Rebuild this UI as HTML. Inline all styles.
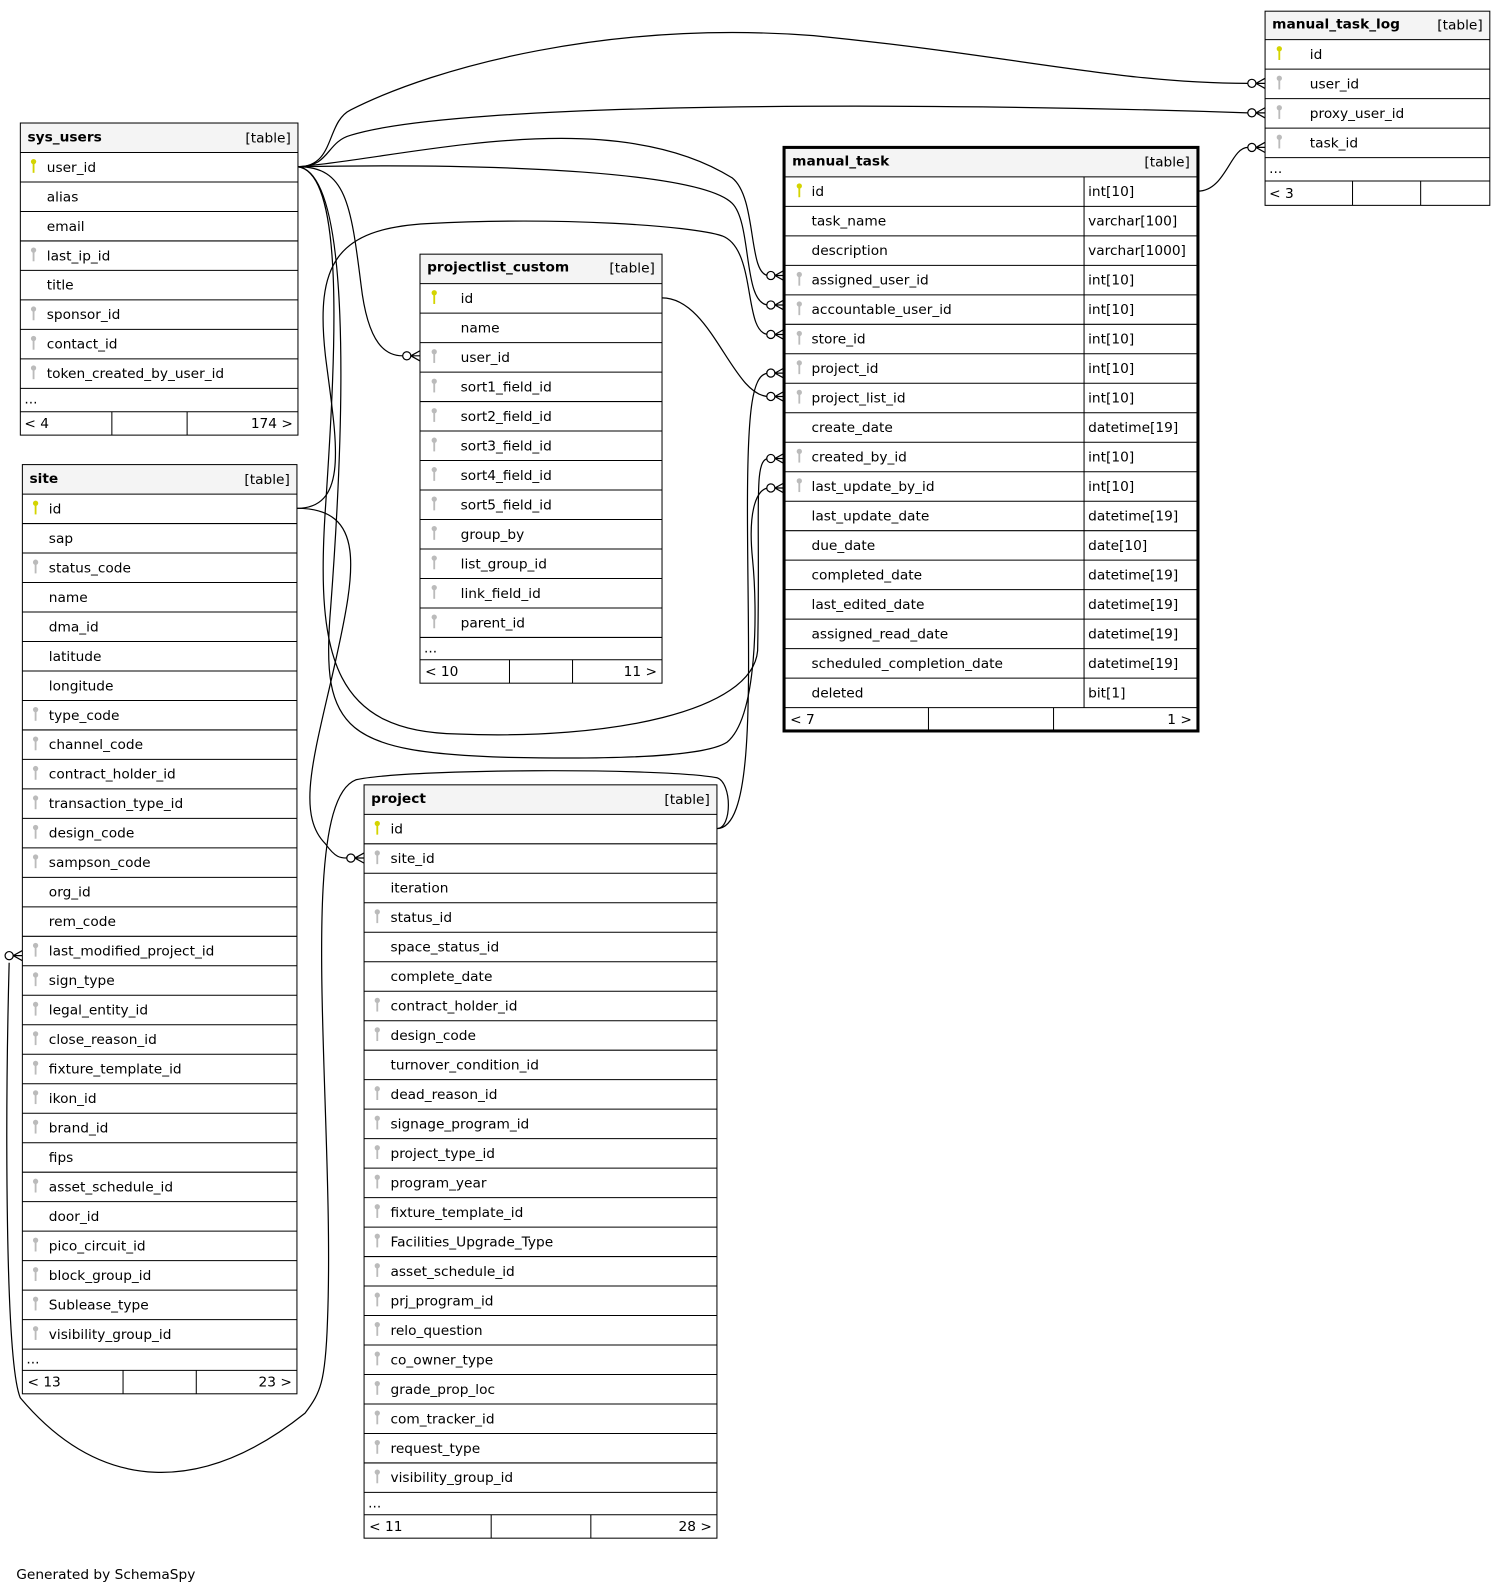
<!DOCTYPE html>
<html><head><meta charset="utf-8"><style>
html,body{margin:0;padding:0;background:#fff;}
svg{display:block}
text{font-family:"DejaVu Sans","Liberation Sans",sans-serif;font-size:13.5px;fill:#000}
.b{font-weight:bold}
.t{fill:none;stroke:#000;stroke-width:1}
.e{fill:none;stroke:#000;stroke-width:1.2}
</style></head><body>
<svg width="1501" height="1589" viewBox="0 0 1476 1563" preserveAspectRatio="none" xmlns="http://www.w3.org/2000/svg">
<defs>
<g id="pk"><circle cx="0" cy="-3" r="2.6" fill="#d4d400"/><rect x="-0.9" y="-1" width="1.8" height="9" fill="#d4d400"/></g>
<g id="fk"><circle cx="0" cy="-3" r="2.6" fill="#bbb"/><rect x="-0.9" y="-1" width="1.8" height="9" fill="#bbb"/></g>
<g id="cf"><circle cx="-13" cy="0" r="4" fill="#fff" stroke="#000" stroke-width="1.2"/><path d="M-9,0 L0,-5 M-9,0 L0,0 M-9,0 L0,5" stroke="#000" stroke-width="1.2" fill="none"/></g>
</defs>

<!-- edges -->
<path class="e" d="M293 164 C330 164 320 120 345 108 C430 65 600 20 800 35 C1000 55 1100 82 1227 82"/>
<path class="e" d="M293 164 C325 164 320 140 345 133 C450 100 900 100 1227 111"/>
<path class="e" d="M293 164 C400 155 600 100 720 175 C745 195 735 271 756 271"/>
<path class="e" d="M293 164 C500 160 690 170 720 200 C740 220 730 300 756 300"/>
<path class="e" d="M292 500 C345 500 330 430 320 350 C310 260 330 225 420 220 C550 213 680 222 710 232 C745 245 730 329 756 329"/>
<path class="e" d="M293 164 C340 164 345 200 355 280 C362 340 380 350 396 350"/>
<path class="e" d="M651 293 C700 293 720 390 756 390"/>
<path class="e" d="M705 815 C745 815 735 650 735 500 C735 400 740 367 756 367"/>
<path class="e" d="M293 164 C340 170 330 350 320 500 C310 650 330 720 450 722 C600 728 740 700 745 640 C748 500 740 451 756 451"/>
<path class="e" d="M293 164 C345 170 340 400 325 600 C315 720 340 740 500 745 C650 748 700 740 715 730 C745 705 745 600 740 550 C735 500 745 480 756 480"/>
<path class="e" d="M292 500 C360 500 350 560 330 650 C310 740 290 800 320 830 C330 844 335 844 341 844"/>
<path class="e" d="M705 815 C720 815 720 770 705 765 C650 755 400 756 350 767 C290 790 330 1100 322 1300 C320 1360 315 1370 300 1390 C200 1470 100 1470 20 1375 C5 1340 5 1100 9 947"/>
<path class="e" d="M1178 188 C1205 188 1210 145 1227 145"/>
<use href="#cf" x="1244" y="82"/><use href="#cf" x="1244" y="111"/><use href="#cf" x="1244" y="145"/>
<use href="#cf" x="771" y="271"/><use href="#cf" x="771" y="300"/><use href="#cf" x="771" y="329"/>
<use href="#cf" x="771" y="367"/><use href="#cf" x="771" y="390"/><use href="#cf" x="771" y="451"/><use href="#cf" x="771" y="480"/>
<use href="#cf" x="413" y="350"/><use href="#cf" x="358" y="844"/><use href="#cf" x="22" y="940"/>

<!-- sys_users -->
<rect x="20" y="121" width="273" height="29" fill="#f4f4f4"/>
<rect class="t" x="20" y="121" width="273" height="307"/>
<g class="t"><path d="M20 150H293M20 179H293M20 208H293M20 237H293M20 266H293M20 295H293M20 324H293M20 353H293M20 382H293M20 405H293M110 405V428M184 405V428"/></g>
<text class="b" x="27" y="139">sys_users</text><text x="286" y="140" text-anchor="end">[table]</text>
<use href="#pk" x="33" y="162"/><text x="46" y="169">user_id</text>
<text x="46" y="198">alias</text><text x="46" y="227">email</text>
<use href="#fk" x="33" y="249"/><text x="46" y="256">last_ip_id</text>
<text x="46" y="285">title</text>
<use href="#fk" x="33" y="307"/><text x="46" y="314">sponsor_id</text>
<use href="#fk" x="33" y="336"/><text x="46" y="343">contact_id</text>
<use href="#fk" x="33" y="365"/><text x="46" y="372">token_created_by_user_id</text>
<text x="24" y="397">...</text><text x="24" y="421">&lt; 4</text><text x="288" y="421" text-anchor="end">174 &gt;</text>

<!-- site -->
<rect x="22" y="457" width="270" height="29" fill="#f4f4f4"/>
<rect class="t" x="22" y="457" width="270" height="914"/>
<g class="t"><path d="M22 486H292M22 515H292M22 544H292M22 573H292M22 602H292M22 631H292M22 660H292M22 689H292M22 718H292M22 747H292M22 776H292M22 805H292M22 834H292M22 863H292M22 892H292M22 921H292M22 950H292M22 979H292M22 1008H292M22 1037H292M22 1066H292M22 1095H292M22 1124H292M22 1153H292M22 1182H292M22 1211H292M22 1240H292M22 1269H292M22 1298H292M22 1327H292M22 1348H292M121 1348V1371M193 1348V1371"/></g>
<text class="b" x="29" y="475">site</text><text x="285" y="476" text-anchor="end">[table]</text>
<use href="#pk" x="35" y="498"/><text x="48" y="505">id</text>
<text x="48" y="534">sap</text>
<use href="#fk" x="35" y="556"/><text x="48" y="563">status_code</text>
<text x="48" y="592">name</text><text x="48" y="621">dma_id</text><text x="48" y="650">latitude</text><text x="48" y="679">longitude</text>
<use href="#fk" x="35" y="701"/><text x="48" y="708">type_code</text>
<use href="#fk" x="35" y="730"/><text x="48" y="737">channel_code</text>
<use href="#fk" x="35" y="759"/><text x="48" y="766">contract_holder_id</text>
<use href="#fk" x="35" y="788"/><text x="48" y="795">transaction_type_id</text>
<use href="#fk" x="35" y="817"/><text x="48" y="824">design_code</text>
<use href="#fk" x="35" y="846"/><text x="48" y="853">sampson_code</text>
<text x="48" y="882">org_id</text><text x="48" y="911">rem_code</text>
<use href="#fk" x="35" y="933"/><text x="48" y="940">last_modified_project_id</text>
<use href="#fk" x="35" y="962"/><text x="48" y="969">sign_type</text>
<use href="#fk" x="35" y="991"/><text x="48" y="998">legal_entity_id</text>
<use href="#fk" x="35" y="1020"/><text x="48" y="1027">close_reason_id</text>
<use href="#fk" x="35" y="1049"/><text x="48" y="1056">fixture_template_id</text>
<use href="#fk" x="35" y="1078"/><text x="48" y="1085">ikon_id</text>
<use href="#fk" x="35" y="1107"/><text x="48" y="1114">brand_id</text>
<text x="48" y="1143">fips</text>
<use href="#fk" x="35" y="1165"/><text x="48" y="1172">asset_schedule_id</text>
<text x="48" y="1201">door_id</text>
<use href="#fk" x="35" y="1223"/><text x="48" y="1230">pico_circuit_id</text>
<use href="#fk" x="35" y="1252"/><text x="48" y="1259">block_group_id</text>
<use href="#fk" x="35" y="1281"/><text x="48" y="1288">Sublease_type</text>
<use href="#fk" x="35" y="1310"/><text x="48" y="1317">visibility_group_id</text>
<text x="26" y="1341">...</text><text x="27" y="1364">&lt; 13</text><text x="287" y="1364" text-anchor="end">23 &gt;</text>

<!-- projectlist_custom -->
<rect x="413" y="250" width="238" height="29" fill="#f4f4f4"/>
<rect class="t" x="413" y="250" width="238" height="422"/>
<g class="t"><path d="M413 279H651M413 308H651M413 337H651M413 366H651M413 395H651M413 424H651M413 453H651M413 482H651M413 511H651M413 540H651M413 569H651M413 598H651M413 627H651M413 649H651M501 649V672M563 649V672"/></g>
<text class="b" x="420" y="267">projectlist_custom</text><text x="644" y="268" text-anchor="end">[table]</text>
<use href="#pk" x="427" y="291"/><text x="453" y="298">id</text>
<text x="453" y="327">name</text>
<use href="#fk" x="427" y="349"/><text x="453" y="356">user_id</text>
<use href="#fk" x="427" y="378"/><text x="453" y="385">sort1_field_id</text>
<use href="#fk" x="427" y="407"/><text x="453" y="414">sort2_field_id</text>
<use href="#fk" x="427" y="436"/><text x="453" y="443">sort3_field_id</text>
<use href="#fk" x="427" y="465"/><text x="453" y="472">sort4_field_id</text>
<use href="#fk" x="427" y="494"/><text x="453" y="501">sort5_field_id</text>
<use href="#fk" x="427" y="523"/><text x="453" y="530">group_by</text>
<use href="#fk" x="427" y="552"/><text x="453" y="559">list_group_id</text>
<use href="#fk" x="427" y="581"/><text x="453" y="588">link_field_id</text>
<use href="#fk" x="427" y="610"/><text x="453" y="617">parent_id</text>
<text x="417" y="642">...</text><text x="418" y="665">&lt; 10</text><text x="646" y="665" text-anchor="end">11 &gt;</text>

<!-- manual_task -->
<rect x="771" y="145" width="407" height="29" fill="#f4f4f4"/>
<rect x="771" y="145" width="407" height="574" fill="none" stroke="#000" stroke-width="3"/>
<g class="t"><path d="M771 174H1178M771 203H1178M771 232H1178M771 261H1178M771 290H1178M771 319H1178M771 348H1178M771 377H1178M771 406H1178M771 435H1178M771 464H1178M771 493H1178M771 522H1178M771 551H1178M771 580H1178M771 609H1178M771 638H1178M771 667H1178M771 696H1178M1066 174V696M913 696V719M1036 696V719"/></g>
<text class="b" x="779" y="163">manual_task</text><text x="1170" y="164" text-anchor="end">[table]</text>
<use href="#pk" x="786" y="186"/><text x="798" y="193">id</text><text x="1070" y="193">int[10]</text>
<text x="798" y="222">task_name</text><text x="1070" y="222">varchar[100]</text>
<text x="798" y="251">description</text><text x="1070" y="251">varchar[1000]</text>
<use href="#fk" x="786" y="273"/><text x="798" y="280">assigned_user_id</text><text x="1070" y="280">int[10]</text>
<use href="#fk" x="786" y="302"/><text x="798" y="309">accountable_user_id</text><text x="1070" y="309">int[10]</text>
<use href="#fk" x="786" y="331"/><text x="798" y="338">store_id</text><text x="1070" y="338">int[10]</text>
<use href="#fk" x="786" y="360"/><text x="798" y="367">project_id</text><text x="1070" y="367">int[10]</text>
<use href="#fk" x="786" y="389"/><text x="798" y="396">project_list_id</text><text x="1070" y="396">int[10]</text>
<text x="798" y="425">create_date</text><text x="1070" y="425">datetime[19]</text>
<use href="#fk" x="786" y="447"/><text x="798" y="454">created_by_id</text><text x="1070" y="454">int[10]</text>
<use href="#fk" x="786" y="476"/><text x="798" y="483">last_update_by_id</text><text x="1070" y="483">int[10]</text>
<text x="798" y="512">last_update_date</text><text x="1070" y="512">datetime[19]</text>
<text x="798" y="541">due_date</text><text x="1070" y="541">date[10]</text>
<text x="798" y="570">completed_date</text><text x="1070" y="570">datetime[19]</text>
<text x="798" y="599">last_edited_date</text><text x="1070" y="599">datetime[19]</text>
<text x="798" y="628">assigned_read_date</text><text x="1070" y="628">datetime[19]</text>
<text x="798" y="657">scheduled_completion_date</text><text x="1070" y="657">datetime[19]</text>
<text x="798" y="686">deleted</text><text x="1070" y="686">bit[1]</text>
<text x="777" y="712">&lt; 7</text><text x="1172" y="712" text-anchor="end">1 &gt;</text>

<!-- manual_task_log -->
<rect x="1244" y="11" width="221" height="28" fill="#f4f4f4"/>
<rect class="t" x="1244" y="11" width="221" height="191"/>
<g class="t"><path d="M1244 39H1465M1244 68H1465M1244 97H1465M1244 126H1465M1244 155H1465M1244 178H1465M1330 178V202M1397 178V202"/></g>
<text class="b" x="1251" y="28">manual_task_log</text><text x="1458" y="29" text-anchor="end">[table]</text>
<use href="#pk" x="1258" y="51"/><text x="1288" y="58">id</text>
<use href="#fk" x="1258" y="80"/><text x="1288" y="87">user_id</text>
<use href="#fk" x="1258" y="109"/><text x="1288" y="116">proxy_user_id</text>
<use href="#fk" x="1258" y="138"/><text x="1288" y="145">task_id</text>
<text x="1248" y="170">...</text><text x="1248" y="195">&lt; 3</text>

<!-- project -->
<rect x="358" y="772" width="347" height="29" fill="#f4f4f4"/>
<rect class="t" x="358" y="772" width="347" height="741"/>
<g class="t"><path d="M358 801H705M358 830H705M358 859H705M358 888H705M358 917H705M358 946H705M358 975H705M358 1004H705M358 1033H705M358 1062H705M358 1091H705M358 1120H705M358 1149H705M358 1178H705M358 1207H705M358 1236H705M358 1265H705M358 1294H705M358 1323H705M358 1352H705M358 1381H705M358 1410H705M358 1439H705M358 1468H705M358 1490H705M483 1490V1513M581 1490V1513"/></g>
<text class="b" x="365" y="790">project</text><text x="698" y="791" text-anchor="end">[table]</text>
<use href="#pk" x="371" y="813"/><text x="384" y="820">id</text>
<use href="#fk" x="371" y="842"/><text x="384" y="849">site_id</text>
<text x="384" y="878">iteration</text>
<use href="#fk" x="371" y="900"/><text x="384" y="907">status_id</text>
<text x="384" y="936">space_status_id</text>
<text x="384" y="965">complete_date</text>
<use href="#fk" x="371" y="987"/><text x="384" y="994">contract_holder_id</text>
<use href="#fk" x="371" y="1016"/><text x="384" y="1023">design_code</text>
<text x="384" y="1052">turnover_condition_id</text>
<use href="#fk" x="371" y="1074"/><text x="384" y="1081">dead_reason_id</text>
<use href="#fk" x="371" y="1103"/><text x="384" y="1110">signage_program_id</text>
<use href="#fk" x="371" y="1132"/><text x="384" y="1139">project_type_id</text>
<use href="#fk" x="371" y="1161"/><text x="384" y="1168">program_year</text>
<use href="#fk" x="371" y="1190"/><text x="384" y="1197">fixture_template_id</text>
<use href="#fk" x="371" y="1219"/><text x="384" y="1226">Facilities_Upgrade_Type</text>
<use href="#fk" x="371" y="1248"/><text x="384" y="1255">asset_schedule_id</text>
<use href="#fk" x="371" y="1277"/><text x="384" y="1284">prj_program_id</text>
<use href="#fk" x="371" y="1306"/><text x="384" y="1313">relo_question</text>
<use href="#fk" x="371" y="1335"/><text x="384" y="1342">co_owner_type</text>
<use href="#fk" x="371" y="1364"/><text x="384" y="1371">grade_prop_loc</text>
<use href="#fk" x="371" y="1393"/><text x="384" y="1400">com_tracker_id</text>
<use href="#fk" x="371" y="1422"/><text x="384" y="1429">request_type</text>
<use href="#fk" x="371" y="1451"/><text x="384" y="1458">visibility_group_id</text>
<text x="362" y="1483">...</text><text x="363" y="1506">&lt; 11</text><text x="700" y="1506" text-anchor="end">28 &gt;</text>

<text x="16" y="1553">Generated by SchemaSpy</text>
</svg>
</body></html>
